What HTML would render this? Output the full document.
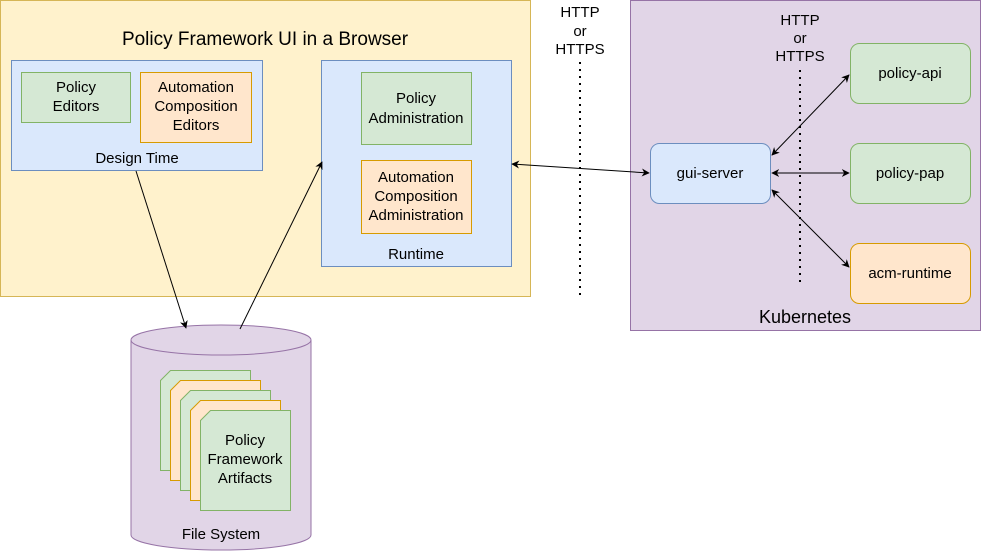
<!DOCTYPE html>
<html><head><meta charset="utf-8"><style>body{margin:0;background:#fff}svg{display:block}text{font-family:"Liberation Sans",Arial,sans-serif;fill:#000}</style></head><body>
<svg width="981" height="551" viewBox="0 0 981 551" xmlns="http://www.w3.org/2000/svg">
<defs><marker id="a" viewBox="0 0 10 10" refX="9" refY="5" markerWidth="8" markerHeight="8" orient="auto-start-reverse"><path d="M0,0 L10,5 L0,10 L3,5 z" fill="#000"/></marker></defs>
<rect x="0.5" y="0.5" width="530" height="296" fill="#fff2cc" stroke="#d6b656"/>
<text x="265" y="45" font-size="19" text-anchor="middle">Policy Framework UI in a Browser</text>
<rect x="11.5" y="60.5" width="251" height="110" fill="#dae8fc" stroke="#6c8ebf"/>
<text x="137" y="163" font-size="15" text-anchor="middle">Design Time</text>
<rect x="21.5" y="72.5" width="109" height="50" fill="#d5e8d4" stroke="#82b366"/>
<text x="76" y="92" font-size="15" text-anchor="middle">Policy</text><text x="76" y="111" font-size="15" text-anchor="middle">Editors</text>
<rect x="140.5" y="72.5" width="111" height="70" fill="#ffe6cc" stroke="#d79b00"/>
<text x="196" y="92" font-size="15" text-anchor="middle">Automation</text><text x="196" y="111" font-size="15" text-anchor="middle">Composition</text><text x="196" y="130" font-size="15" text-anchor="middle">Editors</text>
<rect x="321.5" y="60.5" width="190" height="206" fill="#dae8fc" stroke="#6c8ebf"/>
<text x="416" y="259" font-size="15" text-anchor="middle">Runtime</text>
<rect x="361.5" y="72.5" width="110" height="72" fill="#d5e8d4" stroke="#82b366"/>
<text x="416" y="103" font-size="15" text-anchor="middle">Policy</text><text x="416" y="123" font-size="15" text-anchor="middle">Administration</text>
<rect x="361.5" y="160.5" width="110" height="73" fill="#ffe6cc" stroke="#d79b00"/>
<text x="416" y="182" font-size="15" text-anchor="middle">Automation</text><text x="416" y="201" font-size="15" text-anchor="middle">Composition</text><text x="416" y="220" font-size="15" text-anchor="middle">Administration</text>
<text x="580" y="17" font-size="15" text-anchor="middle">HTTP</text><text x="580" y="36" font-size="15" text-anchor="middle">or</text><text x="580" y="54" font-size="15" text-anchor="middle">HTTPS</text>
<line x1="580" y1="62" x2="580" y2="300" stroke="#000" stroke-width="2" stroke-dasharray="2,5"/>
<rect x="630.5" y="0.5" width="350" height="330" fill="#e1d5e7" stroke="#9673a6"/>
<text x="805" y="323" font-size="18" text-anchor="middle">Kubernetes</text>
<text x="800" y="25" font-size="15" text-anchor="middle">HTTP</text><text x="800" y="43" font-size="15" text-anchor="middle">or</text><text x="800" y="61" font-size="15" text-anchor="middle">HTTPS</text>
<line x1="800" y1="70" x2="800" y2="282" stroke="#000" stroke-width="2" stroke-dasharray="2,5"/>
<rect x="650.5" y="143.5" width="120" height="60" rx="9" fill="#dae8fc" stroke="#6c8ebf"/>
<text x="710" y="178" font-size="15" text-anchor="middle">gui-server</text>
<rect x="850.5" y="43.5" width="120" height="60" rx="9" fill="#d5e8d4" stroke="#82b366"/>
<text x="910" y="78" font-size="15" text-anchor="middle">policy-api</text>
<rect x="850.5" y="143.5" width="120" height="60" rx="9" fill="#d5e8d4" stroke="#82b366"/>
<text x="910" y="178" font-size="15" text-anchor="middle">policy-pap</text>
<rect x="850.5" y="243.5" width="120" height="60" rx="9" fill="#ffe6cc" stroke="#d79b00"/>
<text x="910" y="278" font-size="15" text-anchor="middle">acm-runtime</text>
<g stroke="#000" fill="none" marker-start="url(#a)" marker-end="url(#a)">
<line x1="512" y1="164" x2="649" y2="173"/>
<line x1="772" y1="155" x2="849" y2="75"/>
<line x1="772" y1="173" x2="849" y2="173"/>
<line x1="772" y1="190" x2="849" y2="267"/>
</g>
<path d="M131,340 L131,535 A90,15 0 0 0 311,535 L311,340" fill="#e1d5e7" stroke="#9673a6"/>
<ellipse cx="221" cy="340" rx="90" ry="15" fill="#e1d5e7" stroke="#9673a6"/>
<text x="221" y="539" font-size="15" text-anchor="middle">File System</text>
<path d="M170.5,370.5 h80 v100 h-90 v-90 z" fill="#d5e8d4" stroke="#82b366"/>
<path d="M180.5,380.5 h80 v100 h-90 v-90 z" fill="#ffe6cc" stroke="#d79b00"/>
<path d="M190.5,390.5 h80 v100 h-90 v-90 z" fill="#d5e8d4" stroke="#82b366"/>
<path d="M200.5,400.5 h80 v100 h-90 v-90 z" fill="#ffe6cc" stroke="#d79b00"/>
<path d="M210.5,410.5 h80 v100 h-90 v-90 z" fill="#d5e8d4" stroke="#82b366"/>
<text x="245" y="445" font-size="15" text-anchor="middle">Policy</text><text x="245" y="464" font-size="15" text-anchor="middle">Framework</text><text x="245" y="483" font-size="15" text-anchor="middle">Artifacts</text>
<g stroke="#000" fill="none" marker-end="url(#a)">
<line x1="136" y1="171" x2="186" y2="328"/>
<line x1="240" y1="329" x2="322" y2="162"/>
</g>
</svg>
</body></html>
